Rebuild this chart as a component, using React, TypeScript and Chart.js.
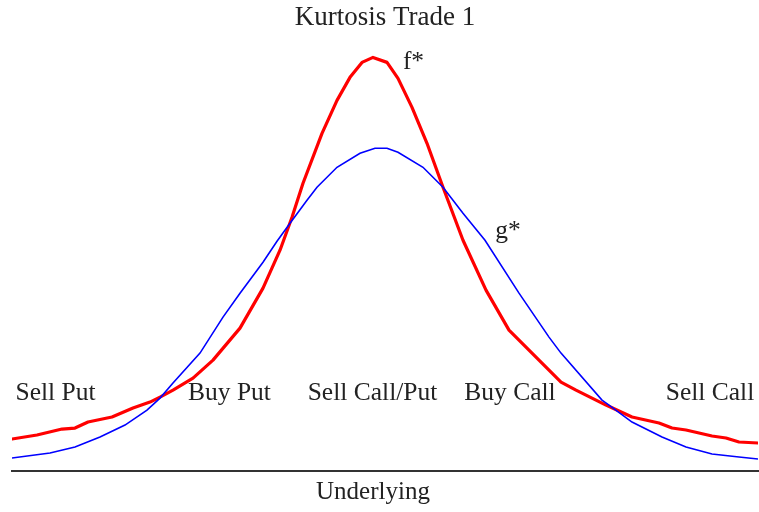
import React, { useEffect, useRef } from "react";
import { Chart, registerables } from "chart.js";

Chart.register(...registerables);

// f* (peaked, red) curve: underlying value -> density
const fX = [0, 25, 50, 63, 76, 100, 121, 138, 148, 161, 181, 201, 228, 251, 268, 280, 291, 310, 325, 338, 350, 361, 375, 386, 400, 415, 431, 451, 474, 497, 514, 549, 564, 594, 620, 647, 660, 674, 700, 714, 727, 746];
const fY = [32, 36, 42, 43, 49, 54, 63, 69, 74, 81, 93, 111, 143, 183, 221, 254, 288, 338, 371, 394, 409, 414, 409, 393, 364, 328, 284, 231, 181, 141, 124, 89, 81, 66, 54, 48, 43, 41, 35, 33, 29, 28];

// g* (wider, blue) curve
const gX = [0, 38, 63, 88, 113, 135, 148, 161, 188, 211, 228, 251, 265, 278, 295, 305, 325, 348, 363, 375, 386, 411, 431, 451, 473, 507, 537, 549, 590, 597, 620, 650, 674, 700, 727, 746];
const gY = [13, 18, 24, 34, 46, 61, 73, 88, 118, 154, 178, 209, 230, 248, 271, 284, 304, 318, 323, 323, 319, 304, 284, 258, 231, 178, 134, 118, 71, 66, 49, 34, 24, 17, 14, 12];

// annotation labels (text, x position, baseline y position in data units)
const labelTexts = ["f*", "g*", "Sell Put", "Buy Put", "Sell Call/Put", "Buy Call", "Sell Call"];
const labelX = [401.5, 496, 43.5, 217.5, 360.5, 498, 698];
const labelY = [402, 233, 71, 71, 71, 71, 71];

const titleText = "Kurtosis Trade 1";
const xTitle = "Underlying";
const xTitleAt = 361; // horizontal centre of axis title, in data units

const FONT = '"Liberation Serif", "Times New Roman", serif';
const TEXT_COLOR = "#222";

export default function App() {
  const ref = useRef<HTMLCanvasElement | null>(null);

  useEffect(() => {
    document.body.style.margin = "0";
    const canvas = ref.current;
    if (!canvas) return;

    const labelPlugin = {
      id: "curveLabels",
      afterDatasetsDraw(chart: any) {
        const ctx = chart.ctx;
        const xs = chart.scales.x;
        const ys = chart.scales.y;
        ctx.save();
        ctx.font = `25.5px ${FONT}`;
        ctx.fillStyle = TEXT_COLOR;
        ctx.textAlign = "center";
        ctx.textBaseline = "alphabetic";
        labelTexts.forEach((t, i) => {
          ctx.fillText(t, xs.getPixelForValue(labelX[i]), ys.getPixelForValue(labelY[i]));
        });
        // axis title, placed under the x axis line
        ctx.font = `25px ${FONT}`;
        ctx.fillText(xTitle, xs.getPixelForValue(xTitleAt), xs.top + 28);
        ctx.restore();
      },
    };

    const chart = new Chart(canvas, {
      type: "line",
      data: {
        datasets: [
          {
            label: "g*",
            data: gX.map((x, i) => ({ x, y: gY[i] })),
            borderColor: "#0000ff",
            borderWidth: 1.6,
            pointRadius: 0,
            tension: 0,
            fill: false,
          },
          {
            label: "f*",
            data: fX.map((x, i) => ({ x, y: fY[i] })),
            borderColor: "#ff0000",
            borderWidth: 3.2,
            borderJoinStyle: "round",
            borderCapStyle: "round",
            pointRadius: 0,
            tension: 0,
            fill: false,
          },
        ],
      },
      options: {
        animation: false,
        responsive: false,
        maintainAspectRatio: false,
        layout: { padding: { left: 12, right: 1, top: 0, bottom: 41 } },
        plugins: {
          legend: { display: false },
          tooltip: { enabled: false },
          title: {
            display: true,
            text: titleText,
            color: TEXT_COLOR,
            font: { family: FONT, size: 27, weight: "normal" },
            padding: { top: 2, bottom: 6 },
          },
        },
        scales: {
          x: {
            type: "linear",
            min: 0,
            max: 746,
            grid: { display: false, drawTicks: false },
            ticks: { display: false },
            border: { display: true, color: "#333", width: 2 },
            title: { display: false },
          },
          y: {
            type: "linear",
            min: 0,
            max: 431,
            display: false,
          },
        },
      },
      plugins: [labelPlugin],
    } as any);

    return () => chart.destroy();
  }, []);

  return (
    <div style={{ position: "absolute", left: 0, top: 0, width: 759, height: 512, background: "#fff" }}>
      <canvas ref={ref} width={759} height={512} style={{ width: 759, height: 512, display: "block" }} />
    </div>
  );
}
